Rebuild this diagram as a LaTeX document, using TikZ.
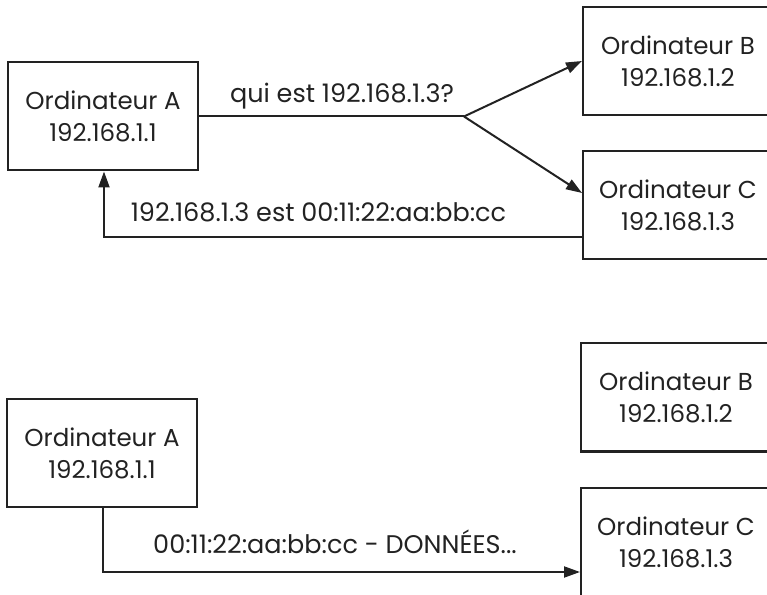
\documentclass[tikz,border=0pt]{standalone}
\usepackage{fontspec}
\setmainfont{Poppins}
\usetikzlibrary{arrows.meta}
\definecolor{ink}{HTML}{222222}
\tikzset{
  host/.style={draw=ink, line width=2pt, minimum width=190pt, minimum height=108pt,
    align=center, font=\fontsize{24.5}{32}\selectfont, text=ink, inner sep=0pt},
  link/.style={draw=ink, line width=2pt},
  arrowlink/.style={link, -{Triangle[length=16pt,width=11pt]}},
  tag/.style={font=\fontsize{25.5}{28}\selectfont, text=ink, inner sep=0pt, anchor=base}
}
\begin{document}
\begin{tikzpicture}[x=1pt,y=1pt]
\clip (0,0) rectangle (767,594);
% ARP request and reply
\node[host] (A1) at (103,477.5) {Ordinateur A\\192.168.1.1};
\node[host] (B1) at (678,533) {Ordinateur B\\192.168.1.2};
\node[host] (C1) at (678,389) {Ordinateur C\\192.168.1.3};
\coordinate (fork) at (464,477.5);
\draw[link] (A1.east) -- (fork);
\draw[arrowlink] (fork) -- (B1.west);
\draw[arrowlink] (fork) -- ([yshift=12pt]C1.west);
\node[tag] (ask) at (342,491) {qui est 192.168.1.3?};
\coordinate (turn1) at (104,357);
\draw[arrowlink] ([yshift=-32pt]C1.west) -- (turn1) -- (A1.south -| turn1);
\node[tag] (reply) at (318.5,372) {192.168.1.3 est 00:11:22:aa:bb:cc};
% data frame sent directly
\node[host] (A2) at (102,141) {Ordinateur A\\192.168.1.1};
\node[host] (B2) at (676,196.5) {Ordinateur B\\192.168.1.2};
\node[host] (C2) at (676,52) {Ordinateur C\\192.168.1.3};
\coordinate (turn2) at (103,22);
\draw[arrowlink] (A2.south -| turn2) -- (turn2) -- (turn2 -| C2.west);
\node[tag] (data) at (335,41) {00:11:22:aa:bb:cc - DONNÉES...};
\end{tikzpicture}
\end{document}
